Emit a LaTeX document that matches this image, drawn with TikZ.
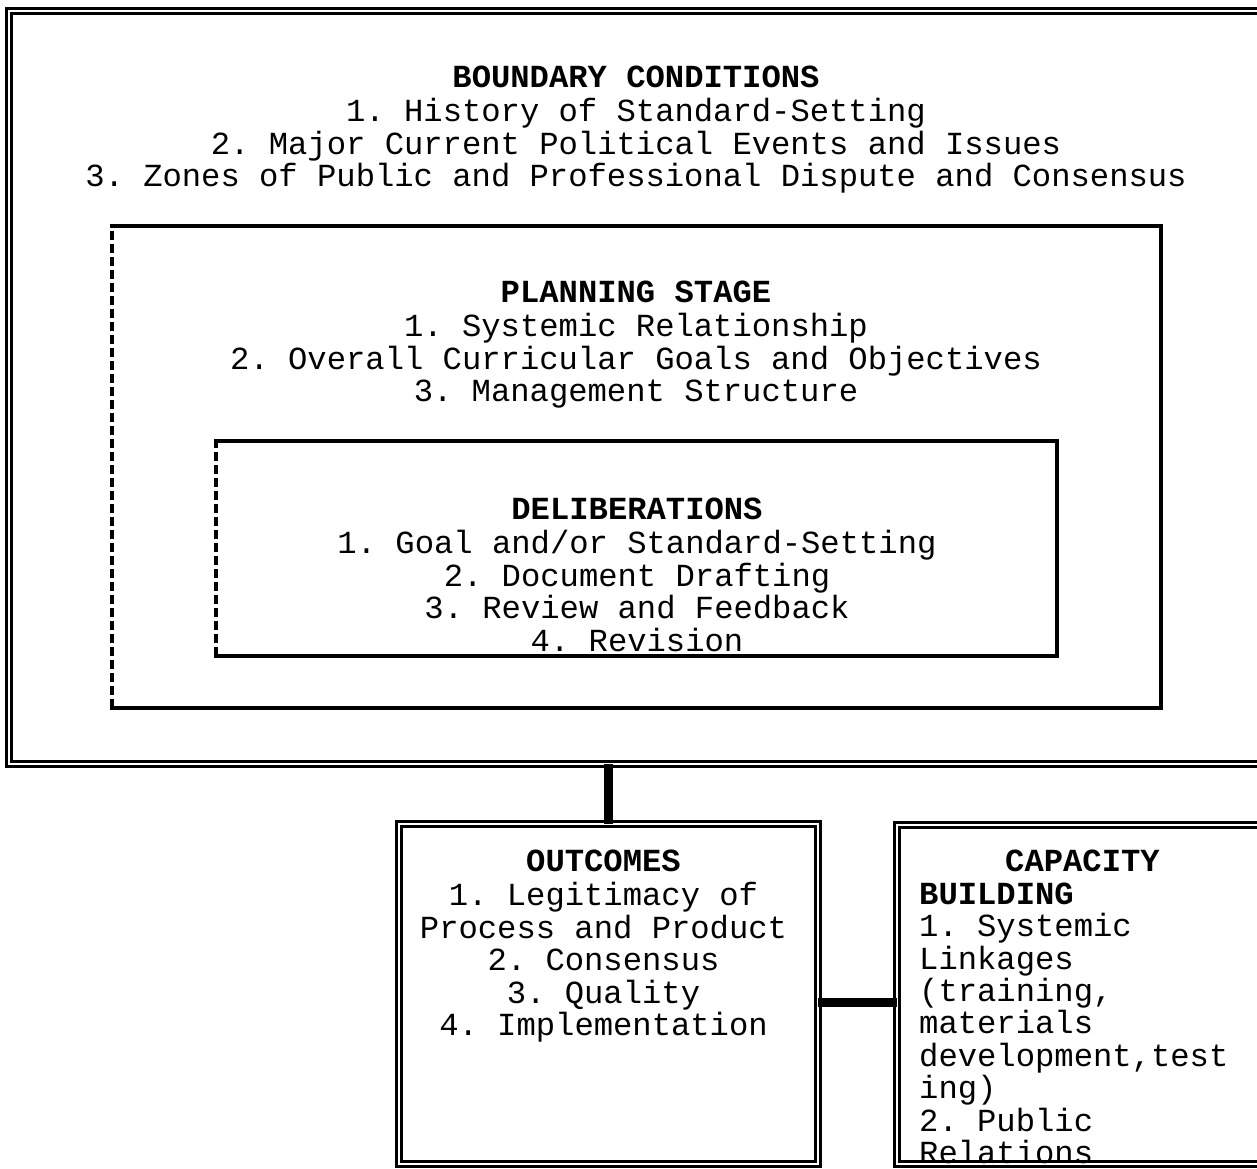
\documentclass[tikz,border=0pt]{standalone}
\usepackage{fontspec}
\setmonofont{Liberation Mono}
\tikzset{
  basic/.style       = {rectangle, inner sep=0pt, outer sep=0pt},
  double frame/.style = {basic, draw, double, line width=3pt, double distance=2.4pt},
  frame line/.style  = {line width=3.6pt, line cap=rect},
  dash line/.style   = {line width=4pt, dash pattern=on 9pt off 4pt},
  link/.style        = {line width=9pt},
  listing/.style     = {font=\ttfamily\fontsize{32.2}{32.4}\selectfont, inner sep=0pt}
}
\begin{document}
\begin{tikzpicture}[x=1pt, y=-1pt]
  \clip (0,0) rectangle (1257,1168);

  % the nested frames
  \node[double frame, minimum width=1266pt, minimum height=753pt] (bound) at (642,387.5) {};
  \node[basic, minimum width=1049pt, minimum height=482pt] (plan) at (636.5,467) {};
  \node[basic, minimum width=841pt, minimum height=215pt] (delib) at (636.5,548.5) {};

  \draw[frame line] (plan.north west) -- (plan.north east) -- (plan.south east) -- (plan.south west);
  \draw[dash line] (plan.south west) -- (plan.north west);
  \draw[frame line] (delib.north west) -- (delib.north east) -- (delib.south east) -- (delib.south west);
  \draw[dash line] (delib.south west) -- (delib.north west);

  % the two boxes below
  \node[double frame, minimum width=419pt, minimum height=340pt] (outc) at (608.5,994) {};
  \node[double frame, minimum width=378pt, minimum height=339pt] (cap) at (1086,994.5) {};

  % texts
  \node[listing, align=center, anchor=north] (boundtext) at (636,65)
    {\strut\textbf{BOUNDARY CONDITIONS}\\
     1. History of Standard-Setting\\
     2. Major Current Political Events and Issues\\
     3. Zones of Public and Professional Dispute and Consensus};
  \node[listing, align=center, anchor=north] (plantext) at (636,280)
    {\strut\textbf{PLANNING STAGE}\\
     1. Systemic Relationship\\
     2. Overall Curricular Goals and Objectives\\
     3. Management Structure};
  \node[listing, align=center, anchor=north] (delibtext) at (637,497)
    {\strut\textbf{DELIBERATIONS}\\
     1. Goal and/or Standard-Setting\\
     2. Document Drafting\\
     3. Review and Feedback\\
     4. Revision};
  \node[listing, align=center, anchor=north] (outctext) at (603.5,849)
    {\strut\textbf{OUTCOMES}\\
     1. Legitimacy of\\
     Process and Product\\
     2. Consensus\\
     3. Quality\\
     4. Implementation};
  \node[listing, align=left, anchor=north west] (captext) at (919,849)
    {\strut\hspace*{86pt}\textbf{CAPACITY}\\
     \textbf{BUILDING}\\
     1. Systemic\\
     Linkages\\
     (training,\\
     materials\\
     development,test\\
     ing)\\
     2. Public\\
     Relations};

  % connectors
  \draw[link] (outc.north) -- (outc.north |- bound.south);
  \draw[link] ([yshift=-8pt]outc.east) -- ([yshift=-8pt]outc.east -| cap.west);
\end{tikzpicture}
\end{document}
